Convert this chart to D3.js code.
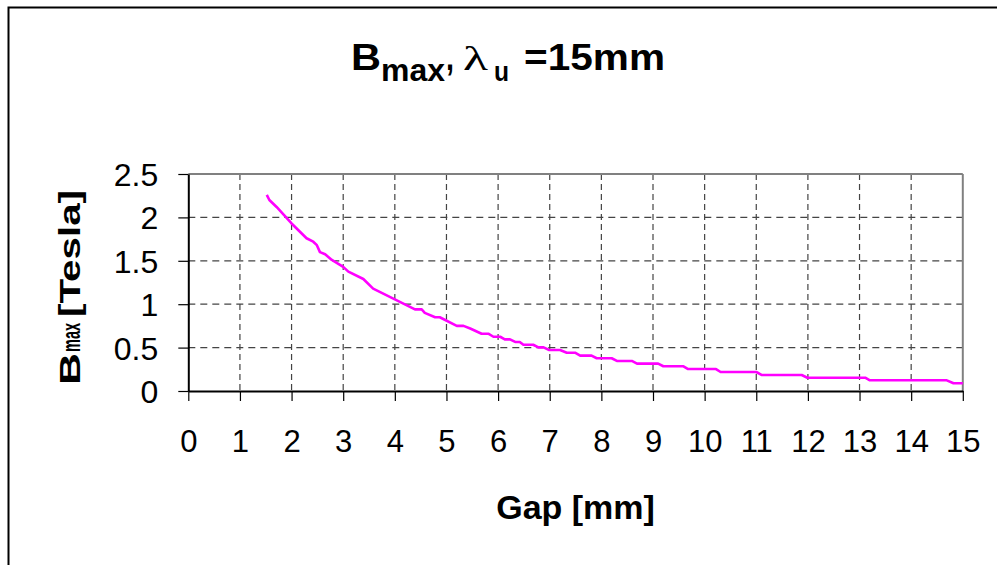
<!DOCTYPE html>
<html>
<head>
<meta charset="utf-8">
<script src="https://cdn.jsdelivr.net/npm/d3@7"></script>
<style>
  html, body { margin: 0; padding: 0; background: #fff; }
  svg { display: block; font-family: Arial, "Liberation Sans", Helvetica, sans-serif; }
</style>
</head>
<body>
<svg id="chart" width="997" height="565"></svg>
<script>
// ---- data ----
const gapMm = [1.52,1.57,1.71,2.0,2.29,2.42,2.49,2.55,2.65,2.78,3.0,3.1,3.39,3.58,4.0,4.39,4.52,4.58,4.78,4.87,5.2,5.33,5.46,5.68,5.81,5.91,6.04,6.13,6.23,6.33,6.42,6.49,6.68,6.78,6.88,6.99,7.2,7.33,7.49,7.59,7.81,7.91,8.2,8.3,8.59,8.69,9.1,9.2,9.59,9.68,10.22,10.31,11.0,11.11,11.88,11.99,13.11,13.2,14.69,14.82,15.0];
const bmaxTesla = [2.26,2.20,2.12,1.93,1.76,1.72,1.68,1.60,1.575,1.51,1.43,1.375,1.29,1.18,1.056,0.94,0.94,0.90,0.85,0.85,0.75,0.75,0.72,0.66,0.66,0.625,0.625,0.595,0.595,0.565,0.565,0.533,0.533,0.503,0.503,0.472,0.472,0.441,0.441,0.407,0.407,0.377,0.377,0.346,0.346,0.315,0.315,0.285,0.285,0.253,0.253,0.219,0.219,0.184,0.184,0.153,0.153,0.123,0.123,0.089,0.089];
const xTicks = [0,1,2,3,4,5,6,7,8,9,10,11,12,13,14,15];
const yTicks = [0,0.5,1,1.5,2,2.5];
const yTickLabels = ["0","0.5","1","1.5","2","2.5"];

const svg = d3.select("#chart");

// chart-area frame (extends past right / bottom of the window)
svg.append("rect")
  .attr("x", 8.5).attr("y", 7.5).attr("width", 1100).attr("height", 700)
  .attr("fill", "#fff").attr("stroke", "#000").attr("stroke-width", 2);

const pLeft = 188.3, pRight = 962.8, pTop = 174, pBottom = 391;
const x = d3.scaleLinear().domain([0, 15]).range([pLeft, pRight]);
const y = d3.scaleLinear().domain([0, 2.5]).range([pBottom, pTop]);

// gridlines
const grid = svg.append("g");
grid.selectAll("line.v").data(xTicks.filter(d => d > 0 && d < 15)).join("line")
  .attr("class", "v")
  .attr("x1", d => x(d)).attr("x2", d => x(d))
  .attr("y1", pTop).attr("y2", pBottom)
  .attr("stroke", "#444").attr("stroke-width", 1.2).attr("stroke-dasharray", "6,4");
grid.selectAll("line.h").data(yTicks.filter(d => d > 0 && d < 2.5)).join("line")
  .attr("class", "h")
  .attr("x1", pLeft).attr("x2", pRight)
  .attr("y1", d => y(d)).attr("y2", d => y(d))
  .attr("stroke", "#444").attr("stroke-width", 1.2).attr("stroke-dasharray", "7,5");

// plot-area border (top/right gray)
svg.append("line").attr("x1", pLeft).attr("x2", pRight).attr("y1", pTop).attr("y2", pTop)
  .attr("stroke", "#808080").attr("stroke-width", 2);
svg.append("line").attr("x1", pRight).attr("x2", pRight).attr("y1", pTop).attr("y2", pBottom)
  .attr("stroke", "#808080").attr("stroke-width", 2);

// curve
const clipId = "plotclip";
svg.append("clipPath").attr("id", clipId).append("rect")
  .attr("x", pLeft).attr("y", pTop - 5).attr("width", pRight - pLeft + 1).attr("height", pBottom - pTop + 5);
const line = d3.line().x((d, i) => x(gapMm[i])).y(d => y(d)).curve(d3.curveLinear);
svg.append("path").datum(bmaxTesla)
  .attr("d", line)
  .attr("fill", "none").attr("stroke", "#FF00FF").attr("stroke-width", 2.6)
  .attr("stroke-linejoin", "round")
  .attr("clip-path", `url(#${clipId})`);

// axes
const xAxis = d3.axisBottom(x).tickValues(xTicks).tickFormat(d3.format("d")).tickSize(10).tickSizeOuter(0);
const gx = svg.append("g").attr("transform", `translate(0,${pBottom})`).call(xAxis);
gx.select(".domain").attr("stroke", "#000").attr("stroke-width", 2);
gx.selectAll(".tick line").attr("stroke", "#000").attr("stroke-width", 1.2);
gx.selectAll(".tick text").attr("y", 61).attr("dy", 0)
  .attr("font-size", 31).attr("fill", "#000")
  .attr("font-family", "Arial, 'Liberation Sans', sans-serif");

const yAxis = d3.axisLeft(y).tickValues(yTicks).tickFormat((d, i) => yTickLabels[i]).tickSize(10).tickPadding(20).tickSizeOuter(0);
const gy = svg.append("g").attr("transform", `translate(${pLeft},0)`).call(yAxis);
gy.select(".domain").attr("stroke", "#000").attr("stroke-width", 2);
gy.selectAll(".tick line").attr("stroke", "#000").attr("stroke-width", 1.2);
gy.selectAll(".tick text").attr("font-size", 32).attr("fill", "#000").attr("dy", "0.36em")
  .attr("font-family", "Arial, 'Liberation Sans', sans-serif");

// title
const tg = svg.append("g").attr("font-weight", "bold").attr("fill", "#000");
function piece(txt, px, py, size, len, extra) {
  const el = tg.append("text").attr("x", px).attr("y", py).attr("font-size", size)
    .attr("textLength", len).attr("lengthAdjust", "spacingAndGlyphs").text(txt);
  if (extra) extra(el);
  return el;
}
piece("B", 351, 70, 36, 30);
piece("max", 381, 81, 32, 64);
piece(",", 446, 70, 36, 8);
piece("λ", 463, 70, 34, 25, el => el.attr("font-weight", "normal")
  .attr("font-family", "'Liberation Serif', 'Times New Roman', serif"));
piece("u", 494, 81, 28, 15);
piece("=15mm", 524, 70, 36, 141);

// y-axis title (rotated)
const yl = svg.append("g").attr("transform", "translate(80,385) rotate(-90)")
  .attr("font-weight", "bold").attr("fill", "#000");
yl.append("text").attr("x", 0).attr("y", 0).attr("font-size", 30)
  .attr("textLength", 32).attr("lengthAdjust", "spacingAndGlyphs").text("B");
yl.append("text").attr("x", 33).attr("y", 0).attr("font-size", 26)
  .attr("textLength", 29).attr("lengthAdjust", "spacingAndGlyphs").text("max");
yl.append("text").attr("x", 68).attr("y", 0).attr("font-size", 30)
  .attr("textLength", 127).attr("lengthAdjust", "spacingAndGlyphs").text("[Tesla]");

// x-axis title
svg.append("text").attr("x", (pLeft + pRight) / 2).attr("y", 519)
  .attr("text-anchor", "middle").attr("font-size", 34).attr("font-weight", "bold")
  .attr("fill", "#000").text("Gap [mm]");
</script>
</body>
</html>
